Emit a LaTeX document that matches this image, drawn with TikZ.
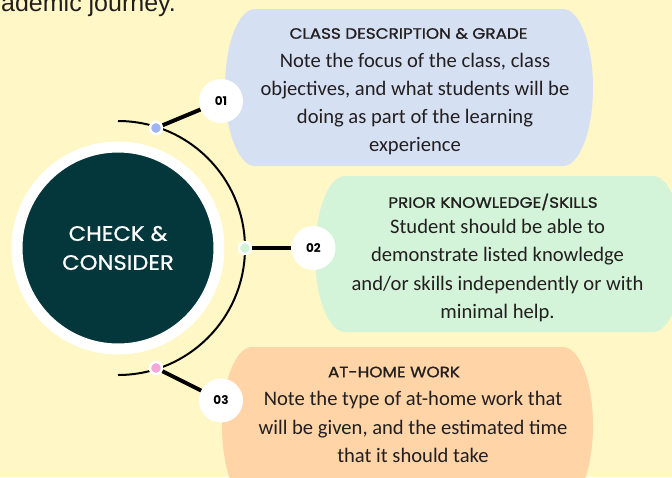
\documentclass[tikz,border=0pt]{standalone}
\usepackage{fontspec}
\newfontfamily\bodyfont{Carlito}
\newfontfamily\popfont{Poppins}
\newfontfamily\popmed{Poppins}[FakeBold=1.2, FakeStretch=1.12]
\newfontfamily\hubfont{Poppins}[FakeBold=0.8, FakeStretch=1.08]
\newfontfamily\headfont{Liberation Sans}
\definecolor{bgyellow}{HTML}{FFF7C6}
\definecolor{boxblue}{HTML}{D6E0F3}
\definecolor{boxgreen}{HTML}{D3F4D8}
\definecolor{boxpeach}{HTML}{FFD4A6}
\definecolor{darkteal}{HTML}{04373C}
\definecolor{dotblue}{HTML}{9EB4EF}
\definecolor{dotgreen}{HTML}{D2F2DA}
\definecolor{dotpink}{HTML}{F4A7D8}
\definecolor{inktext}{HTML}{231F20}
\newcommand{\pillshape}[5]{%
  \fill[#5] ({#1+30},#2) -- ({#3-30},#2)
    arc[start angle=-90, end angle=90, x radius=30, y radius={(#4-#2)/2}]
    -- ({#1+30},#4)
    arc[start angle=90, end angle=270, x radius=30, y radius={(#4-#2)/2}]
    -- cycle;}
\begin{document}
\begin{tikzpicture}[x=1pt,y=-1pt,
  boxtitle/.style={font=\popmed\fontsize{15}{17}\selectfont, text=inktext, inner sep=0},
  boxbody/.style={font=\bodyfont\fontsize{20.6}{28.3}\selectfont, align=center, text=inktext, inner sep=0},
  numnode/.style={circle, fill=white, minimum size=44, inner sep=0, font=\popfont\bfseries\fontsize{12}{14}\selectfont},
  dotnode/.style={circle, draw=white, line width=2.5, minimum size=12, inner sep=0},
  link/.style={line width=4},
  hubnode/.style={circle, fill=darkteal, draw=white, line width=11, minimum size=202, inner sep=0,
    text=white, align=center, font=\hubfont\fontsize{21}{29}\selectfont}]
\useasboundingbox (0,0) rectangle (672,477);
\clip (0,0) rectangle (672,477);
\fill[bgyellow] (0,0) rectangle (672,477);
\node[font=\headfont\fontsize{25}{28}\selectfont, text=inktext, anchor=base east, inner sep=0] (head) at (176,11) {ademic journey.};
% boxes
\pillshape{225}{9}{593}{166}{boxblue}
\pillshape{315}{176}{683}{332}{boxgreen}
\pillshape{222}{347}{593}{504}{boxpeach}
% hub
\node[hubnode] (hub) at (118,248) {CHECK \&\\CONSIDER};
\draw[line width=2] (118,121) arc[start angle=-90, end angle=90, radius=127];
% dots
\node[dotnode, fill=dotblue] (d1) at (156,128) {};
\node[dotnode, fill=dotgreen] (d2) at (245,248) {};
\node[dotnode, fill=dotpink] (d3) at (156,368) {};
% numbers
\node[numnode] (n1) at (221,101) {01};
\node[numnode] (n2) at (313.5,248) {02};
\node[numnode] (n3) at (221,400.5) {03};
\draw[link] (d1) -- (n1);
\draw[link] (d2) -- (n2);
\draw[link] (d3) -- (n3);
% texts
\node[boxtitle] (t1) at (408.5,33.5) {CLASS DESCRIPTION \& GRADE};
\node[boxbody] (b1) at (415,104) {Note the focus of the class, class\\objectives, and what students will be\\doing as part of the learning\\experience};
\node[boxtitle] (t2) at (493,202) {PRIOR KNOWLEDGE/SKILLS};
\node[boxbody] (b2) at (497.5,270.5) {Student should be able to\\demonstrate listed knowledge\\and/or skills independently or with\\minimal help.};
\node[boxtitle] (t3) at (394,372) {AT-HOME WORK};
\node[boxbody] (b3) at (413,427) {Note the type of at-home work that\\will be given, and the estimated time\\that it should take};
\end{tikzpicture}
\end{document}
